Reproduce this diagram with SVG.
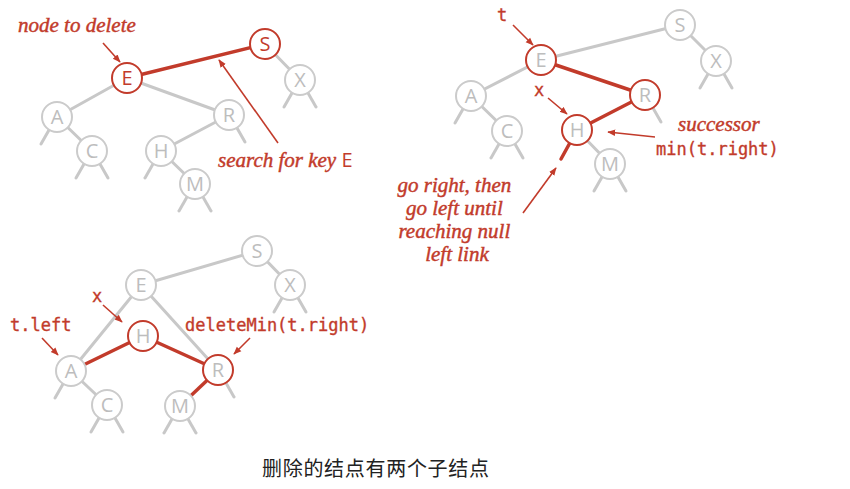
<svg xmlns="http://www.w3.org/2000/svg" width="850" height="489" viewBox="0 0 850 489">
<defs>
<marker id="ah" viewBox="0 0 10 10" refX="9" refY="5" markerWidth="8" markerHeight="8" markerUnits="userSpaceOnUse" orient="auto">
<path d="M0,1 L10,5 L0,9 z" fill="#c23b2b"/>
</marker>
<g id="stubL"><line x1="-8" y1="13" x2="-16" y2="27"/></g>
<g id="stubR"><line x1="8" y1="13" x2="16" y2="27"/></g>
</defs>
<style>
.g{stroke:#c8c8c8;stroke-width:3;fill:none;stroke-linecap:round}
.r{stroke:#c23b2b;stroke-width:3.5;fill:none;stroke-linecap:round}
.ar{stroke:#c23b2b;stroke-width:1.6;fill:none;marker-end:url(#ah)}
.n circle{fill:#fff;stroke:#cbcbcb;stroke-width:2}
.n text{font-family:"Open Sans","DejaVu Sans",sans-serif;font-size:20px;fill:#bdbdbd;text-anchor:middle}
.hr circle{stroke:#c23b2b}
.hr.rt text{fill:#c23b2b}
.it{font-family:"Liberation Serif",serif;font-style:italic;font-size:21px;fill:#c23b2b;stroke:#c23b2b;stroke-width:0.45}
.mo{font-family:"DejaVu Sans Mono","Liberation Mono",monospace;font-size:17px;fill:#c23b2b;stroke:#c23b2b;stroke-width:0.35}
.cap{font-family:"Noto Sans CJK SC",sans-serif;font-size:20px;letter-spacing:0.7px;fill:#222}
</style>
<rect width="850" height="489" fill="#fff"/>

<!-- ===== Tree 1 (top-left) ===== -->
<g id="t1-connectors">
<line class="g" x1="265" y1="44" x2="300" y2="80"/>
<line class="g" x1="127" y1="78" x2="57" y2="117"/>
<line class="g" x1="127" y1="78" x2="229" y2="115"/>
<line class="g" x1="57" y1="117" x2="92" y2="151"/>
<line class="g" x1="229" y1="115" x2="161" y2="151"/>
<line class="g" x1="161" y1="151" x2="195" y2="184"/>
<g class="g">
<use href="#stubL" x="57" y="117"/>
<use href="#stubL" x="92" y="151"/><use href="#stubR" x="92" y="151"/>
<use href="#stubR" x="229" y="115"/>
<use href="#stubL" x="161" y="151"/>
<use href="#stubL" x="195" y="184"/><use href="#stubR" x="195" y="184"/>
<use href="#stubL" x="300" y="80"/><use href="#stubR" x="300" y="80"/>
</g>
<line class="r" x1="127" y1="78" x2="265" y2="44"/>
<line class="ar" x1="103" y1="43" x2="120" y2="62"/>
<line class="ar" x1="278" y1="143" x2="219" y2="60"/>
</g>
<g id="t1-S" class="n hr rt"><circle cx="265" cy="44" r="15"/><text x="265" y="51">S</text></g>
<g id="t1-E" class="n hr rt"><circle cx="127" cy="78" r="15"/><text x="127" y="85">E</text></g>
<g id="t1-X" class="n"><circle cx="300" cy="80" r="15"/><text x="300" y="87">X</text></g>
<g id="t1-A" class="n"><circle cx="57" cy="117" r="15"/><text x="57" y="124">A</text></g>
<g id="t1-C" class="n"><circle cx="92" cy="151" r="15"/><text x="92" y="158">C</text></g>
<g id="t1-R" class="n"><circle cx="229" cy="115" r="15"/><text x="229" y="122">R</text></g>
<g id="t1-H" class="n"><circle cx="161" cy="151" r="15"/><text x="161" y="158">H</text></g>
<g id="t1-M" class="n"><circle cx="195" cy="184" r="15"/><text x="195" y="191">M</text></g>
<text class="it" x="18" y="32">node to delete</text>
<text class="it" x="218" y="167">search for key <tspan font-style="normal" font-family="Open Sans, DejaVu Sans, sans-serif" font-size="20" stroke-width="0">E</tspan></text>

<!-- ===== Tree 2 (top-right) ===== -->
<g id="t2-connectors">
<line class="g" x1="541" y1="60" x2="680" y2="25"/>
<line class="g" x1="680" y1="25" x2="716" y2="61"/>
<line class="g" x1="541" y1="60" x2="471" y2="96"/>
<line class="g" x1="471" y1="96" x2="507" y2="131"/>
<line class="g" x1="577" y1="130" x2="610" y2="164"/>
<g class="g">
<use href="#stubL" x="471" y="96"/>
<use href="#stubL" x="507" y="131"/><use href="#stubR" x="507" y="131"/>
<use href="#stubR" x="645" y="95"/>
<use href="#stubL" x="610" y="164"/><use href="#stubR" x="610" y="164"/>
<use href="#stubL" x="716" y="61"/><use href="#stubR" x="716" y="61"/>
</g>
<line class="r" x1="541" y1="60" x2="645" y2="95"/>
<line class="r" x1="645" y1="95" x2="577" y2="130"/>
<line class="r" x1="577" y1="130" x2="561" y2="159"/>
<line class="ar" x1="513" y1="25" x2="533" y2="45"/>
<line class="ar" x1="548" y1="98" x2="567" y2="114"/>
<line class="ar" x1="655" y1="137" x2="608" y2="132"/>
<line class="ar" x1="523" y1="213" x2="556" y2="168"/>
</g>
<g id="t2-S" class="n"><circle cx="680" cy="25" r="15"/><text x="680" y="32">S</text></g>
<g id="t2-E" class="n hr"><circle cx="541" cy="60" r="15"/><text x="541" y="67">E</text></g>
<g id="t2-X" class="n"><circle cx="716" cy="61" r="15"/><text x="716" y="68">X</text></g>
<g id="t2-A" class="n"><circle cx="471" cy="96" r="15"/><text x="471" y="103">A</text></g>
<g id="t2-C" class="n"><circle cx="507" cy="131" r="15"/><text x="507" y="138">C</text></g>
<g id="t2-R" class="n hr"><circle cx="645" cy="95" r="15"/><text x="645" y="102">R</text></g>
<g id="t2-H" class="n hr"><circle cx="577" cy="130" r="15"/><text x="577" y="137">H</text></g>
<g id="t2-M" class="n"><circle cx="610" cy="164" r="15"/><text x="610" y="171">M</text></g>
<text class="mo" x="497" y="21">t</text>
<text class="mo" x="534" y="96">x</text>
<text class="it" x="678" y="131">successor</text>
<text class="mo" x="656" y="155">min(t.right)</text>
<text class="it" text-anchor="middle">
<tspan x="457" y="192">go right, then</tspan>
<tspan x="457" y="215">go left until</tspan>
<tspan x="457" y="238">reaching null</tspan>
<tspan x="457" y="261">left link</tspan>
</text>

<!-- ===== Tree 3 (bottom-left) ===== -->
<g id="t3-connectors">
<line class="g" x1="257" y1="251" x2="141" y2="285"/>
<line class="g" x1="257" y1="251" x2="290" y2="285"/>
<line class="g" x1="141" y1="285" x2="71" y2="371"/>
<line class="g" x1="141" y1="285" x2="218" y2="370"/>
<line class="g" x1="71" y1="371" x2="107" y2="405"/>
<g class="g">
<use href="#stubL" x="290" y="285"/><use href="#stubR" x="290" y="285"/>
<use href="#stubL" x="71" y="371"/>
<use href="#stubL" x="107" y="405"/><use href="#stubR" x="107" y="405"/>
<use href="#stubR" x="218" y="370"/>
<use href="#stubL" x="180" y="406"/><use href="#stubR" x="180" y="406"/>
</g>
<line class="r" x1="71" y1="371" x2="143" y2="336"/>
<line class="r" x1="143" y1="336" x2="218" y2="370"/>
<line class="r" x1="218" y1="370" x2="180" y2="406"/>
<line class="ar" x1="103" y1="305" x2="122" y2="322"/>
<line class="ar" x1="42" y1="338" x2="58" y2="355"/>
<line class="ar" x1="250" y1="338" x2="234" y2="354"/>
</g>
<g id="t3-S" class="n"><circle cx="257" cy="251" r="15"/><text x="257" y="258">S</text></g>
<g id="t3-E" class="n"><circle cx="141" cy="285" r="15"/><text x="141" y="292">E</text></g>
<g id="t3-X" class="n"><circle cx="290" cy="285" r="15"/><text x="290" y="292">X</text></g>
<g id="t3-H" class="n hr"><circle cx="143" cy="336" r="15"/><text x="143" y="343">H</text></g>
<g id="t3-A" class="n"><circle cx="71" cy="371" r="15"/><text x="71" y="378">A</text></g>
<g id="t3-R" class="n hr"><circle cx="218" cy="370" r="15"/><text x="218" y="377">R</text></g>
<g id="t3-C" class="n"><circle cx="107" cy="405" r="15"/><text x="107" y="412">C</text></g>
<g id="t3-M" class="n"><circle cx="180" cy="406" r="15"/><text x="180" y="413">M</text></g>
<text class="mo" x="92" y="302">x</text>
<text class="mo" x="10" y="331">t.left</text>
<text class="mo" x="185" y="331">deleteMin(t.right)</text>

<text class="cap" x="262" y="476">删除的结点有两个子结点</text>
</svg>
